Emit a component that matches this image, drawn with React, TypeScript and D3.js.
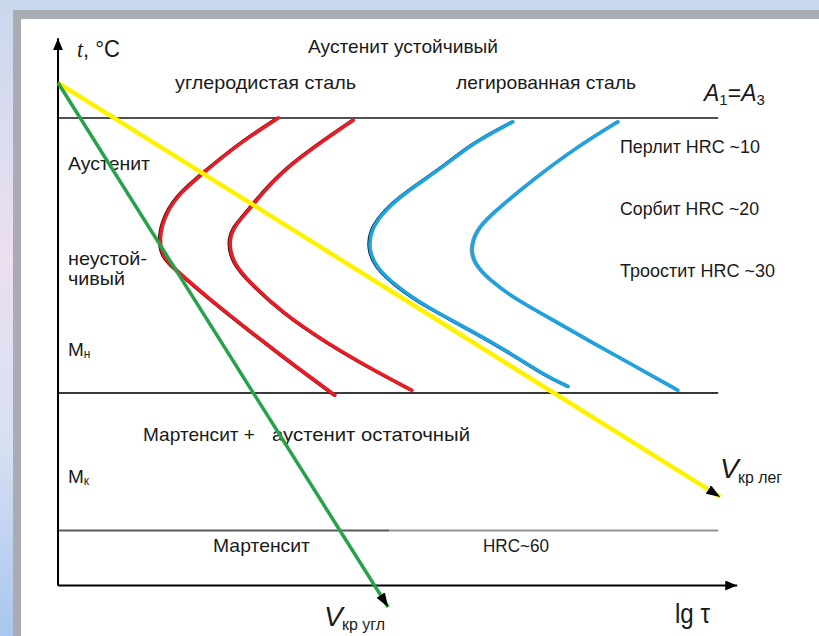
import * as d3 from "d3";

// TTT (C-curve) diagram, values in relative units: lg tau 0..100, t 0..100
const levelA1 = 85; // A1 = A3
const levelMn = 35; // martensite start
const levelMk = 10; // martensite finish
const levelEnd = 96.8;

const coolStart: [number, number] = [0, 91.4];
const vLeg: [number, number] = [97.1, 16.1];
const vUgl: [number, number] = [48.4, -3.9];

const carbonStart: [number, number][] = [
  [32.3, 85.0], [26.7, 80.5], [21.3, 75.0], [17.9, 71.4], [15.8, 67.7],
  [14.8, 63.4], [15.3, 59.8], [16.9, 57.8], [21.8, 52.5], [29.2, 45.2],
  [35.0, 39.7], [40.6, 34.6],
];
const carbonEnd: [number, number][] = [
  [43.3, 84.6], [32.6, 75.5], [28.4, 68.8], [25.7, 65.2], [25.0, 62.3],
  [25.7, 58.6], [28.2, 55.0], [33.0, 49.5], [39.4, 44.1], [46.2, 39.2],
  [51.9, 35.5],
];
const alloyStart: [number, number][] = [
  [66.7, 84.3], [60.9, 80.5], [56.5, 76.1], [51.6, 72.0], [48.0, 68.4],
  [45.8, 64.6], [45.6, 61.0], [46.6, 57.9], [49.7, 54.3], [54.1, 50.6],
  [60.4, 46.5], [66.3, 42.3], [71.7, 38.0], [74.8, 36.2],
];
const alloyEnd: [number, number][] = [
  [82.1, 84.3], [76.1, 79.7], [70.2, 74.3], [64.8, 68.8], [61.6, 65.2],
  [60.5, 61.5], [61.0, 58.6], [63.3, 55.5], [67.3, 51.9], [72.6, 48.3],
  [78.4, 44.1], [84.9, 39.7], [90.9, 35.5],
];

const curves = [
  { pts: carbonStart, color: "#e81c24", shadow: 1 },
  { pts: carbonEnd, color: "#e81c24", shadow: 1 },
  { pts: alloyStart, color: "#1ea2e2", shadow: 1 },
  { pts: alloyEnd, color: "#1ea2e2", shadow: 0.4 },
];

const FONT = "'Liberation Sans Narrow', 'Liberation Sans', Arial, sans-serif";

export default function App() {
  const width = 819;
  const height = 636;

  const x = d3.scaleLinear().domain([0, 100]).range([58, 740]);
  const y = d3.scaleLinear().domain([0, 100]).range([585.5, 35.5]);

  const line = d3
    .line<[number, number]>()
    .x((d) => x(d[0]))
    .y((d) => y(d[1]))
    .curve(d3.curveBasis);

  const T = (props: any) => (
    <text fontFamily={FONT} fill="#1a1a1a" lengthAdjust="spacingAndGlyphs" {...props} />
  );

  return (
    <svg
      width={width}
      height={height}
      style={{ position: "absolute", left: 0, top: 0 }}
    >
      <defs>
        <linearGradient id="side" x1="0" y1="0" x2="0" y2="1">
          <stop offset="0" stopColor="#c9d8ee" />
          <stop offset="0.4" stopColor="#ecdff0" />
          <stop offset="0.7" stopColor="#d6e0f2" />
          <stop offset="1" stopColor="#a9c6ee" />
        </linearGradient>
        <marker id="arr" viewBox="0 0 12 10" refX="12" refY="5" markerWidth="12" markerHeight="10"
          markerUnits="userSpaceOnUse" orient="auto">
          <path d="M0,0 L12,5 L0,10 Z" fill="#000" />
        </marker>
        <marker id="arrS" viewBox="0 0 14 10" refX="14" refY="5" markerWidth="14" markerHeight="10"
          markerUnits="userSpaceOnUse" orient="auto">
          <path d="M0,0 L14,5 L0,10 Z" fill="#000" />
        </marker>
      </defs>

      {/* slide frame */}
      <rect x={0} y={0} width={width} height={height} fill="url(#side)" />
      <rect x={0} y={0} width={width} height={10} fill="#c8d7ec" />
      <rect x={13} y={10} width={width - 13} height={height - 10} fill="#a9adb3" />
      <rect x={21} y={19} width={width - 21} height={height - 19} fill="#ffffff" />

      {/* horizontal levels */}
      <g strokeWidth={2}>
        <line x1={x(0)} x2={x(levelEnd)} y1={y(levelA1)} y2={y(levelA1)} stroke="#505050" />
        <line x1={x(0)} x2={x(levelEnd)} y1={y(levelMn)} y2={y(levelMn)} stroke="#3a3a3a" />
        <line x1={x(0)} x2={x(48.6)} y1={y(levelMk)} y2={y(levelMk)} stroke="#5a5a5a" />
        <line x1={x(48.6)} x2={x(levelEnd)} y1={y(levelMk)} y2={y(levelMk)} stroke="#939393" />
      </g>

      {/* axes */}
      <line x1={x(0)} x2={x(0)} y1={y(0)} y2={y(99.5)} stroke="#000" strokeWidth={2} markerEnd="url(#arr)" />
      <line x1={x(0)} x2={x(99.6)} y1={y(0)} y2={y(0)} stroke="#000" strokeWidth={2} markerEnd="url(#arr)" />

      {/* labels */}
      <g fontSize={19}>
        <T x={77} y={57} fontSize={23} textLength={43}>
          <tspan fontStyle="italic" fontFamily="'Liberation Serif', serif">t</tspan>, °C
        </T>
        <T x={308} y={53} textLength={190}>Аустенит устойчивый</T>
        <T x={175} y={89} textLength={181}>углеродистая сталь</T>
        <T x={456} y={89} textLength={180}>легированная сталь</T>
        <T x={704} y={101} fontSize={23}>
          <tspan fontStyle="italic">A</tspan>
          <tspan fontSize={15} dy={4}>1</tspan>
          <tspan dy={-4}>=</tspan>
          <tspan fontStyle="italic">A</tspan>
          <tspan fontSize={15} dy={4}>3</tspan>
        </T>
        <T x={620} y={153} textLength={140}>Перлит HRC ~10</T>
        <T x={620} y={215} textLength={139}>Сорбит HRC ~20</T>
        <T x={620} y={277} textLength={155}>Троостит HRC ~30</T>
        <T x={68} y={170} textLength={82}>Аустенит</T>
        <T x={68} y={265} textLength={79}>неустой-</T>
        <T x={68} y={285} textLength={57}>чивый</T>
        <T x={68} y={356}>
          M<tspan fontSize={12} dy={2}>н</tspan>
        </T>
        <T x={143} y={441} textLength={112}>Мартенсит +</T>
        <T x={272} y={441} textLength={198}>аустенит остаточный</T>
        <T x={68} y={483}>
          M<tspan fontSize={12} dy={2}>к</tspan>
        </T>
        <T x={213} y={552} textLength={97}>Мартенсит</T>
        <T x={483} y={552} textLength={66}>HRC~60</T>
        <T x={324} y={626} fontSize={28} fontStyle="italic">V</T>
        <T x={342} y={630} fontSize={17} textLength={43}>кр угл</T>
        <T x={675} y={623} fontSize={27} textLength={35}>lg τ</T>
        <T x={720} y={478} fontSize={28} fontStyle="italic">V</T>
        <T x={738} y={483} fontSize={17} textLength={44}>кр лег</T>
      </g>

      {/* transformation curves */}
      {curves.map((c, i) => (
        <g key={i} fill="none" strokeLinecap="round">
          <path d={line(c.pts) ?? ""} stroke="#111" strokeOpacity={c.shadow} strokeWidth={2.4}
            transform="translate(-1.4,0)" />
          <path d={line(c.pts) ?? ""} stroke={c.color} strokeWidth={3.6} />
        </g>
      ))}

      {/* critical cooling rates */}
      <line x1={x(coolStart[0])} y1={y(coolStart[1])} x2={x(vLeg[0])} y2={y(vLeg[1])}
        stroke="#fff200" strokeWidth={4.5} markerEnd="url(#arrS)" />
      <line x1={x(coolStart[0])} y1={y(coolStart[1])} x2={x(vUgl[0])} y2={y(vUgl[1])}
        stroke="#27a24a" strokeWidth={3.5} markerEnd="url(#arrS)" />
    </svg>
  );
}
